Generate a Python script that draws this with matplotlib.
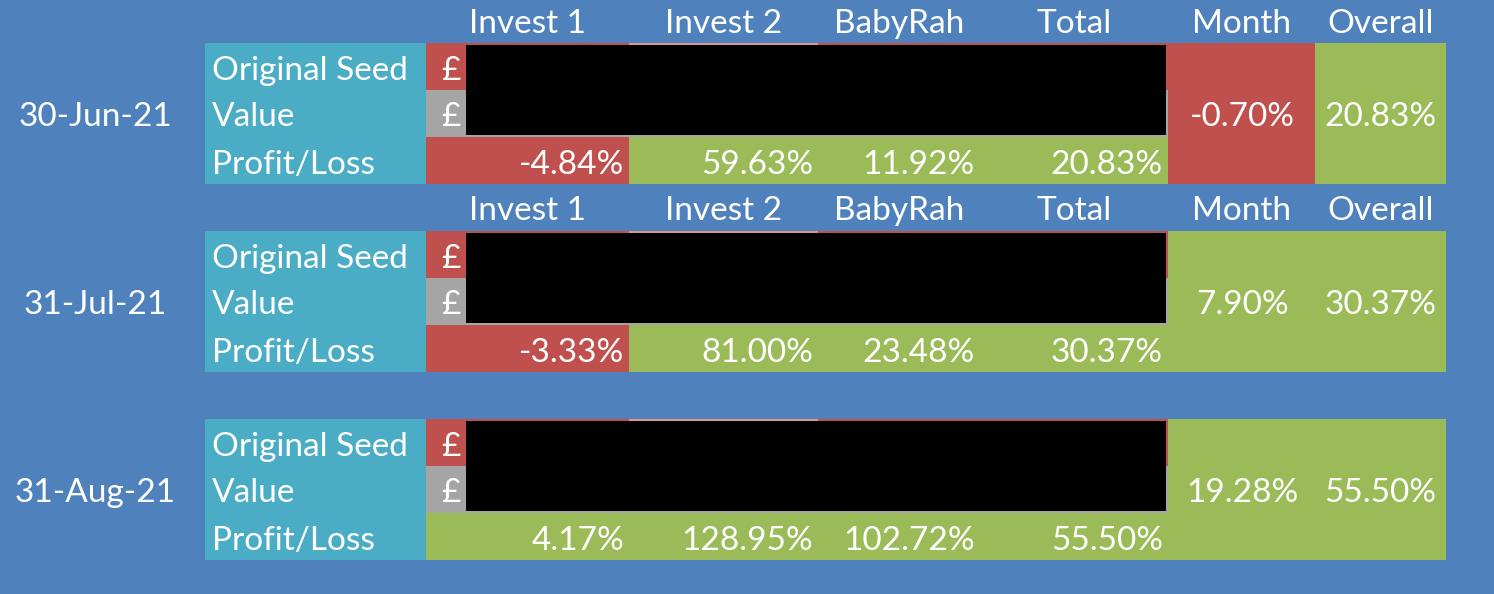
import matplotlib
matplotlib.use('Agg')
import matplotlib.pyplot as plt
from matplotlib.patches import Rectangle

# ---- data ----
dates = ['30-Jun-21', '31-Jul-21', '31-Aug-21']
columns = ['Invest 1', 'Invest 2', 'BabyRah', 'Total']
row_labels = ['Original Seed', 'Value', 'Profit/Loss']
pl_jun = [-4.84, 59.63, 11.92, 20.83]
pl_jul = [-3.33, 81.00, 23.48, 30.37]
pl_aug = [4.17, 128.95, 102.72, 55.50]
month_change = [-0.70, 7.90, 19.28]
overall_change = [20.83, 30.37, 55.50]
show_header = [True, True, False]

pl_all = [pl_jun, pl_jul, pl_aug]

# ---- sheet colours ----
BG = '#4F81BD'
TEAL = '#4BACC6'
RED = '#C0504D'
GREEN = '#9BBB59'
GREY = '#A5A5A5'
PINK = '#D99694'
WHITE = 'white'

plt.rcParams['font.family'] = ['Lato', 'DejaVu Sans']
FS = 24
DY = 1  # baseline nudge, pixels

W, H = 1494, 594
fig = plt.figure(figsize=(W / 100, H / 100), dpi=100)
fig.patch.set_facecolor(BG)
ax = fig.add_axes([0, 0, 1, 1])
ax.set_xlim(0, W)
ax.set_ylim(H, 0)
ax.axis('off')

# column edges (pixels)
x_date = (0, 205)
x_label = (205, 426)
x_pound = (426, 466)
x_cols = [426, 629, 818, 980, 1168]
x_month = (1168, 1315)
x_overall = (1315, 1446)
row_h = 47
block_tops = [43, 231, 419]


def box(x0, x1, y0, y1, color):
    ax.add_patch(Rectangle((x0, y0), x1 - x0, y1 - y0, facecolor=color,
                           edgecolor='none', linewidth=0))


def txt(x, y, s, ha='center'):
    ax.text(x, y + DY, s, ha=ha, va='center_baseline', color=WHITE, fontsize=FS)


def pct(v):
    return f'{v:.2f}%'


for b, top in enumerate(block_tops):
    bottom = top + 3 * row_h
    mid = (top + bottom) / 2

    # header row
    if show_header[b]:
        hy = 20 if b == 0 else top - row_h / 2
        for i, name in enumerate(columns):
            txt((x_cols[i] + x_cols[i + 1]) / 2, hy, name)
        txt(sum(x_month) / 2, hy, 'Month')
        txt(sum(x_overall) / 2, hy, 'Overall')

    # date
    txt(sum(x_date) / 2 - 7, mid, dates[b])

    # row labels
    box(x_label[0], x_label[1], top, bottom, TEAL)
    for r, lab in enumerate(row_labels):
        txt(x_label[0] + 7, top + r * row_h + row_h / 2, lab, ha='left')

    # seed / value rows (amounts redacted)
    box(x_cols[0], x_cols[-1], top, top + row_h, RED)
    box(x_cols[0], x_cols[-1], top + row_h, top + 2 * row_h, GREY)
    box(x_cols[1], x_cols[2], top, top + 2, PINK)
    box(x_pound[1], x_cols[-1] - 2, top + 2, top + 2 * row_h - 2, 'black')
    txt(x_pound[1] - 5, top + row_h / 2, '£', ha='right')
    txt(x_pound[1] - 5, top + 1.5 * row_h, '£', ha='right')

    # profit / loss row
    y0 = top + 2 * row_h
    for i, v in enumerate(pl_all[b]):
        box(x_cols[i], x_cols[i + 1], y0, bottom, RED if v < 0 else GREEN)
        txt(x_cols[i + 1] - 5, y0 + row_h / 2, pct(v), ha='right')

    # month / overall
    m = month_change[b]
    box(x_month[0], x_month[1], top, bottom, RED if m < 0 else GREEN)
    txt(sum(x_month) / 2 + 1, mid, pct(m))
    o = overall_change[b]
    box(x_overall[0], x_overall[1], top, bottom, RED if o < 0 else GREEN)
    txt(sum(x_overall) / 2, mid, pct(o))

fig.savefig('out.png', dpi=100, facecolor=BG)
